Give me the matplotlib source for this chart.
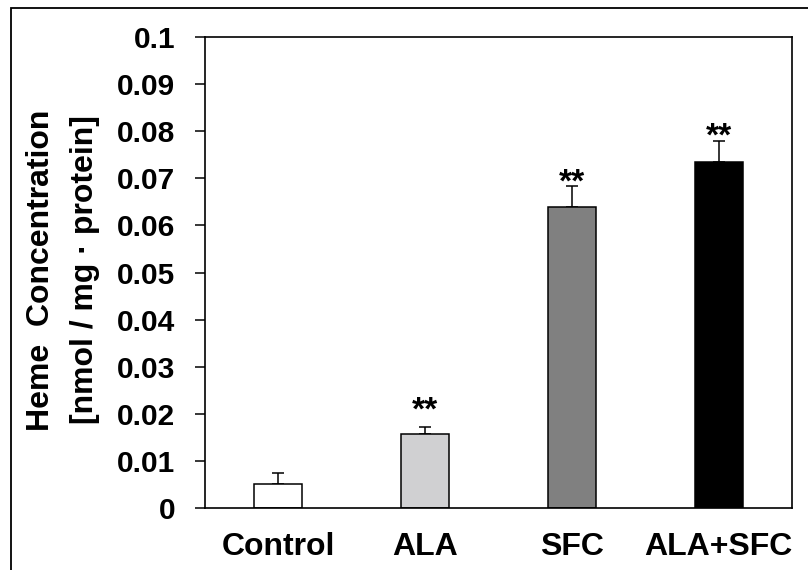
import matplotlib
matplotlib.use("Agg")
import matplotlib.pyplot as plt
from matplotlib.patches import Rectangle

# Data
categories = ["Control", "ALA", "SFC", "ALA+SFC"]
heme_mean = [0.0050, 0.0157, 0.0640, 0.0734]
heme_err = [0.0024, 0.0014, 0.0044, 0.0046]
significance = ["", "**", "**", "**"]
star_level = [0.0, 0.0215, 0.0699, 0.0796]
bar_colors = ["#ffffff", "#d0d0d2", "#808080", "#000000"]
yticks = [0, 0.01, 0.02, 0.03, 0.04, 0.05, 0.06, 0.07, 0.08, 0.09, 0.1]
ytick_labels = ["0", "0.01", "0.02", "0.03", "0.04", "0.05", "0.06", "0.07", "0.08", "0.09", "0.1"]

plt.rcParams["font.family"] = ["Liberation Sans", "DejaVu Sans"]
plt.rcParams["font.weight"] = "bold"

W, H = 808, 570
fig = plt.figure(figsize=(W / 100, H / 100), dpi=100)

# Outer chart frame (left and top edges visible)
fig.patches.append(Rectangle((10.5 / W, -0.05), 1.2, 1 - 7.5 / H + 0.05,
                             transform=fig.transFigure, fill=False,
                             edgecolor="black", linewidth=1.3))

ax = fig.add_axes([205 / W, 1 - 508 / H, (792 - 205) / W, (508 - 37) / H])

x = list(range(len(categories)))
ax.bar(x, heme_mean, width=0.327, color=bar_colors, edgecolor="black",
       linewidth=1.1, zorder=2)
ax.errorbar(x, heme_mean, yerr=[[0] * len(heme_err), heme_err], fmt="none",
            ecolor="black", elinewidth=1.1, capsize=4, capthick=1.1, zorder=1)

# Significance marks: the asterisk glyph centre sits at star_level
for xi, lvl, s in zip(x, star_level, significance):
    if s:
        ax.annotate(s, (xi, lvl), xytext=(0, -9.3), textcoords="offset points",
                    ha="center", va="baseline", fontsize=24, fontweight="bold")

ax.set_xlim(-0.5, 3.5)
ax.set_ylim(0, 0.1)
ax.set_yticks(yticks)
ax.set_yticklabels(ytick_labels)
ax.set_xticks(x)
ax.set_xticklabels(categories)

ax.tick_params(axis="y", direction="out", length=7.5, width=1.1, pad=14,
               labelsize=21.5)
ax.tick_params(axis="x", length=0, pad=17, labelsize=23)
for lbl in ax.get_xticklabels() + ax.get_yticklabels():
    lbl.set_fontweight("bold")

for sp in ax.spines.values():
    sp.set_linewidth(1.2)
    sp.set_color("black")

# Two-line y-axis title
ycen = 1 - 270 / H
fig.text(41 / W, ycen, "Heme  Concentration", rotation=90, ha="center",
         va="center", fontsize=23, fontweight="bold")
fig.text(85 / W, ycen, "[nmol / mg \u00b7 protein]", rotation=90, ha="center",
         va="center", fontsize=23, fontweight="bold")

fig.savefig("out.png", dpi=100)
